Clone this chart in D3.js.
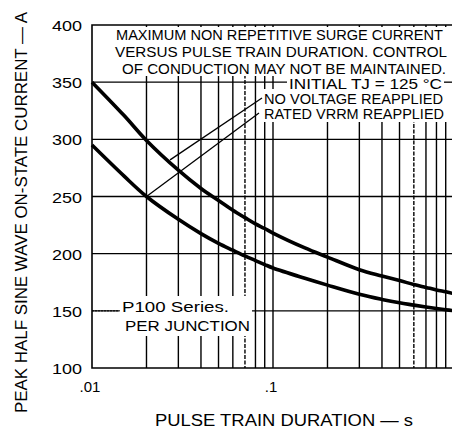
<!DOCTYPE html>
<html>
<head>
<meta charset="utf-8">
<script src="https://cdn.jsdelivr.net/npm/d3@7"></script>
<style>
  body { margin: 0; background: #fff; }
  svg { display: block; }
  text { font-family: "Liberation Sans", Arial, sans-serif; fill: #000; }
</style>
</head>
<body>
<div id="chart"></div>
<script>
// pulse train duration (s)
const durations = [0.01, 0.015, 0.02, 0.03, 0.04, 0.05, 0.06, 0.07, 0.08, 0.09, 0.1, 0.15, 0.2, 0.3, 0.4, 0.5, 0.6, 0.7, 0.8, 0.9, 1.0];
// peak surge current (A)
const noVoltage = [350, 321, 299, 273, 257, 246.5, 238, 231.5, 226, 222, 218, 205, 197, 186, 180.5, 176.5, 173, 170.5, 168.3, 166.6, 165];
const ratedVrrm = [295, 268, 250, 230, 217.5, 209, 203, 198, 194, 190.5, 187.5, 178.5, 172.5, 164.5, 160, 157, 155, 153.3, 152, 151, 150];

const xTickValues = [0.01, 0.1];
const xTickLabels = ['.01', '.1'];
const yTickValues = [100, 150, 200, 250, 300, 350, 400];
const xGridValues = [0.02, 0.03, 0.04, 0.05, 0.06, 0.07, 0.08, 0.09, 0.1, 0.2, 0.3, 0.4, 0.5, 0.6, 0.7, 0.8, 0.9];
const dashedGrid = [0.07, 0.6];

// where the two leader lines touch the curves
const leaderNoVoltage = [0.027, 282];
const leaderRated = [0.02, 250];

const width = 452, height = 428;
const margin = { top: 25, left: 92, bottom: 60 };

const svg = d3.select('#chart')
    .append('svg')
    .attr('width', width)
    .attr('height', height);

const x = d3.scaleLog()
    .domain([0.01, 1])
    .range([margin.left, 454]);

const y = d3.scaleLinear()
    .domain([100, 400])
    .range([height - margin.bottom, margin.top]);

// grid
svg.append('g')
    .selectAll('line')
    .data(xGridValues)
    .enter()
    .append('line')
    .attr('x1', d => x(d)).attr('x2', d => x(d))
    .attr('y1', y(400)).attr('y2', y(100))
    .attr('stroke', '#000')
    .attr('stroke-width', 1.4)
    .attr('stroke-dasharray', d => dashedGrid.includes(d) ? '4,1.5' : null);

svg.append('g')
    .selectAll('line')
    .data(yTickValues.slice(1, -1))
    .enter()
    .append('line')
    .attr('x1', x(0.01)).attr('x2', width)
    .attr('y1', d => y(d)).attr('y2', d => y(d))
    .attr('stroke', '#000')
    .attr('stroke-width', 1.3);

// frame
svg.append('path')
    .attr('d', `M${width},${y(400)}H${x(0.01)}V${y(100)}H${width}`)
    .attr('fill', 'none')
    .attr('stroke', '#000')
    .attr('stroke-width', 1.6);

// white boxes behind the notes
const masks = [
    [95, 27, width - 95, 49],
    [287, 76, width - 287, 14],
    [261, 89, width - 261, 33],
    [119, 296, 133, 40]
];
svg.append('g')
    .selectAll('rect')
    .data(masks)
    .enter()
    .append('rect')
    .attr('x', d => d[0]).attr('y', d => d[1])
    .attr('width', d => d[2]).attr('height', d => d[3])
    .attr('fill', '#fff');

// curves
const line = d3.line()
    .x(d => x(d[0]))
    .y(d => y(d[1]))
    .curve(d3.curveCatmullRom);

[noVoltage, ratedVrrm].forEach(series => {
    svg.append('path')
        .datum(durations.map((d, i) => [d, series[i]]))
        .attr('d', line)
        .attr('fill', 'none')
        .attr('stroke', '#000')
        .attr('stroke-width', 3.6)
        .attr('stroke-linejoin', 'round');
});

// leader lines
svg.append('line')
    .attr('x1', 262).attr('y1', 98)
    .attr('x2', x(leaderNoVoltage[0])).attr('y2', y(leaderNoVoltage[1]))
    .attr('stroke', '#000').attr('stroke-width', 1.3);
svg.append('line')
    .attr('x1', 259).attr('y1', 113)
    .attr('x2', x(leaderRated[0])).attr('y2', y(leaderRated[1]))
    .attr('stroke', '#000').attr('stroke-width', 1.3);
svg.append('line')
    .attr('x1', 444).attr('y1', y(350))
    .attr('x2', width).attr('y2', y(350))
    .attr('stroke', '#000').attr('stroke-width', 1.3);

// notes
const notes = [
    ['MAXIMUM NON REPETITIVE SURGE CURRENT', 116, 40, 327],
    ['VERSUS PULSE TRAIN DURATION. CONTROL', 115, 57, 332],
    ['OF CONDUCTION MAY NOT BE MAINTAINED.', 122, 73.5, 324],
    ['INITIAL TJ = 125 °C', 289, 88.5, 153],
    ['NO VOLTAGE REAPPLIED', 264, 103.5, 179],
    ['RATED VRRM REAPPLIED', 264, 118.5, 180],
    ['P100 Series.', 122, 311.5, 107],
    ['PER JUNCTION', 125, 330.5, 125]
];
svg.append('g')
    .selectAll('text')
    .data(notes)
    .enter()
    .append('text')
    .attr('x', d => d[1]).attr('y', d => d[2])
    .attr('textLength', d => d[3])
    .attr('lengthAdjust', 'spacingAndGlyphs')
    .style('font-size', '14px')
    .text(d => d[0]);

// leader from the 150 gridline edge to "P100 Series."
svg.append('line')
    .attr('x1', x(0.01)).attr('x2', 120)
    .attr('y1', y(150)).attr('y2', y(150))
    .attr('stroke', '#000').attr('stroke-width', 1)
    .attr('stroke-dasharray', '2,1');

// axes labels
svg.append('g')
    .selectAll('text')
    .data(yTickValues)
    .enter()
    .append('text')
    .attr('x', 82)
    .attr('y', d => y(d) + 6)
    .attr('text-anchor', 'end')
    .attr('textLength', 30)
    .attr('lengthAdjust', 'spacingAndGlyphs')
    .style('font-size', '15px')
    .text(d => d);

svg.append('g')
    .selectAll('text')
    .data(xTickValues)
    .enter()
    .append('text')
    .attr('x', d => x(d) - 2)
    .attr('y', 392)
    .attr('text-anchor', 'middle')
    .style('font-size', '15px')
    .text((d, i) => xTickLabels[i]);

svg.append('text')
    .attr('x', 155).attr('y', 426)
    .attr('textLength', 258)
    .attr('lengthAdjust', 'spacingAndGlyphs')
    .style('font-size', '16px')
    .text('PULSE TRAIN DURATION — s');

svg.append('text')
    .attr('transform', 'translate(27,413) rotate(-90)')
    .attr('textLength', 401)
    .attr('lengthAdjust', 'spacingAndGlyphs')
    .style('font-size', '16px')
    .text('PEAK HALF SINE WAVE ON-STATE CURRENT — A');
</script>
</body>
</html>
